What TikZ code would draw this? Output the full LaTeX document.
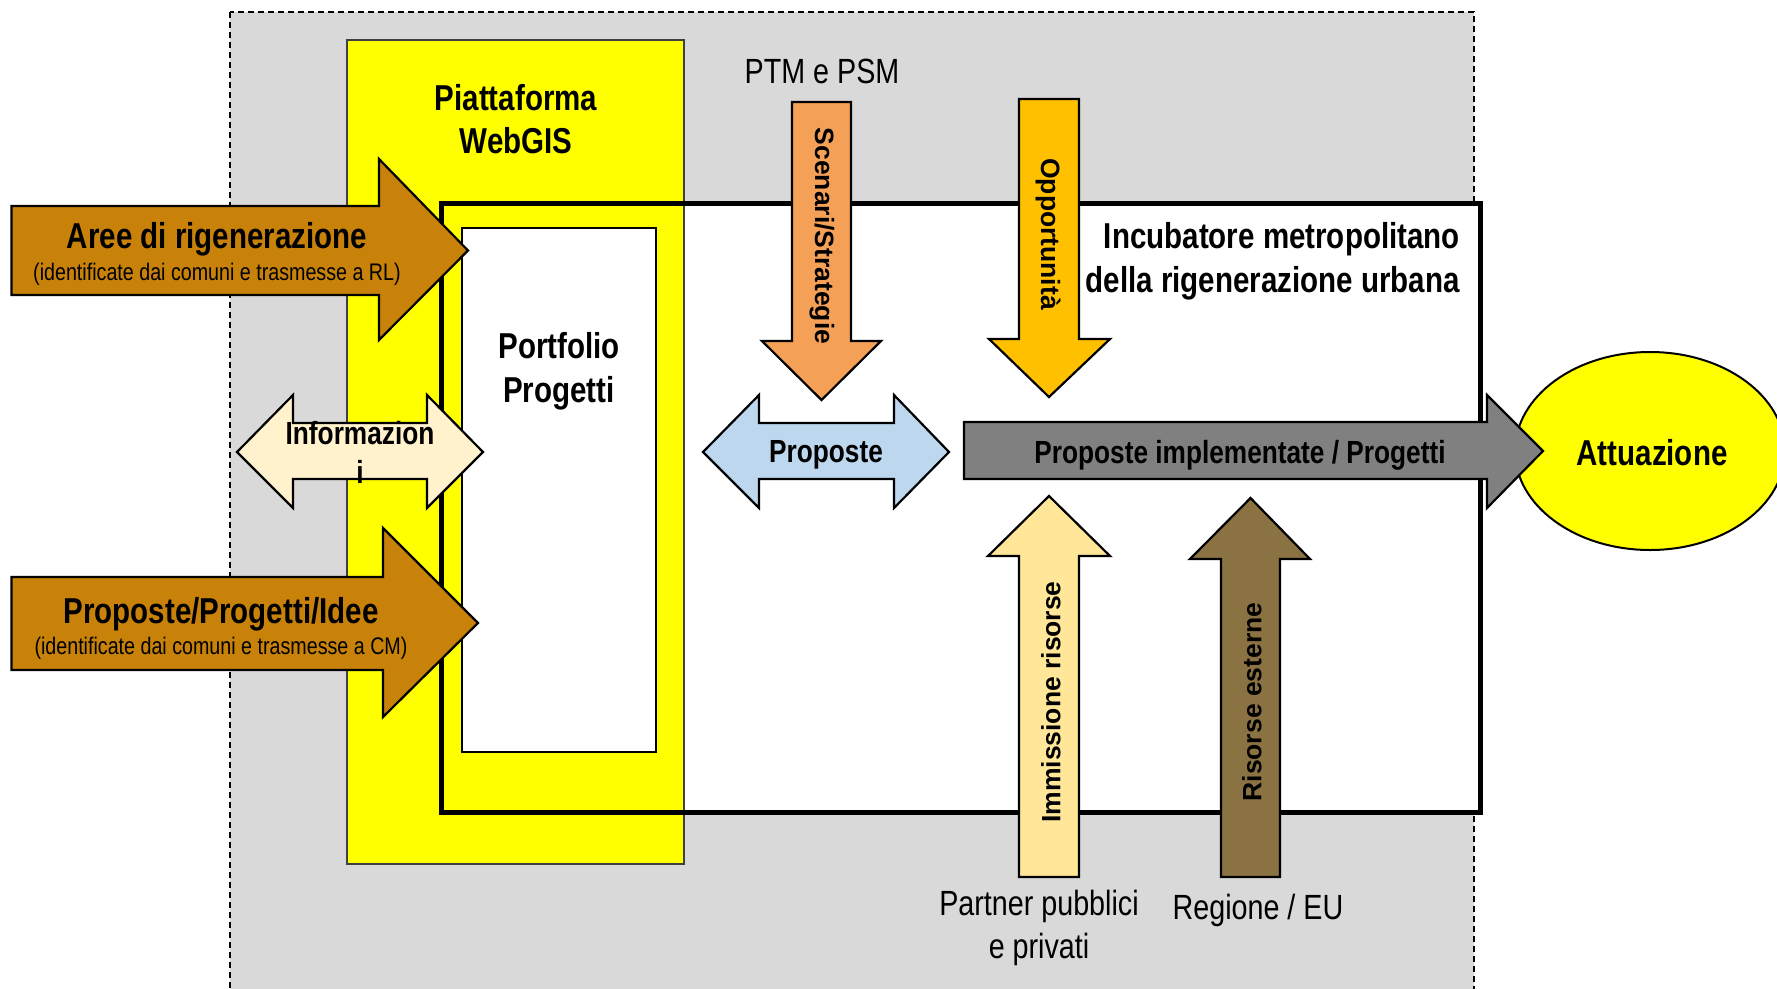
\documentclass[tikz,border=0pt]{standalone}
\usepackage{fontspec}
\setmainfont{Liberation Sans}
\newfontfamily\narrowfont[FakeStretch=0.82]{Liberation Sans}
\definecolor{bggray}{HTML}{D9D9D9}
\definecolor{webyellow}{HTML}{FFFF00}
\definecolor{brownarrow}{HTML}{C8820A}
\definecolor{infocream}{HTML}{FFF2CC}
\definecolor{propblue}{HTML}{BDD7EE}
\definecolor{scenorange}{HTML}{F4A157}
\definecolor{oppgold}{HTML}{FFC000}
\definecolor{implgray}{HTML}{808080}
\definecolor{immyellow}{HTML}{FFE699}
\definecolor{risbrown}{HTML}{8A7242}
\begin{document}
\begin{tikzpicture}[x=1pt,y=-1pt,
  blockarrow/.style={draw=black, line width=2.2pt, line join=miter},
  bigtext/.style={font=\narrowfont\bfseries\fontsize{36}{43}\selectfont, inner sep=0pt},
  midtext/.style={font=\narrowfont\bfseries\fontsize{32}{38}\selectfont, inner sep=0pt},
  subtext/.style={font=\narrowfont\fontsize{24}{28}\selectfont, inner sep=0pt},
  plaintext/.style={font=\narrowfont\fontsize{35}{43}\selectfont, inner sep=0pt},
  verttext/.style={font=\bfseries\fontsize{26.5}{30}\selectfont, inner sep=0pt}]
\useasboundingbox (0,0) rectangle (1777,988);
\fill[white] (0,0) rectangle (1777,988);
% background dashed region
\draw[fill=bggray, line width=1.5pt, dash pattern=on 6pt off 4pt] (230,12) rectangle (1474,1010);
% incubator fill
\fill[white] (441,203) rectangle (1480,812);
% WebGIS platform
\draw[fill=webyellow, draw=black!75, line width=1.5pt] (347,40) rectangle (684,864);
% incubator border
\draw[line width=5pt] (441,203) rectangle (1480,812);
% portfolio box
\draw[fill=white, line width=2.5pt] (462,228) rectangle (656,752);

\node[bigtext, anchor=base] (piatt) at (516,110) {Piattaforma};
\node[bigtext, anchor=base] (webgis) at (516,153) {WebGIS};
\node[bigtext, anchor=base] (portf) at (559,358) {Portfolio};
\node[bigtext, anchor=base] (progt) at (559,402) {Progetti};
\node[bigtext, anchor=base east] (incub1) at (1460,248) {Incubatore metropolitano};
\node[bigtext, anchor=base east] (incub2) at (1460,292) {della rigenerazione urbana};
\node[plaintext, anchor=base] (ptm) at (822,83) {PTM e PSM};

% attuazione ellipse
\draw[fill=webyellow, line width=2pt] (1650,451) ellipse [x radius=135, y radius=99];
\node[bigtext, anchor=base] (attua) at (1652,465) {Attuazione};

% Aree di rigenerazione arrow
\draw[blockarrow, fill=brownarrow] (11.5,206) -- (379,206) -- (379,159) -- (468,250.5) -- (379,340) -- (379,295) -- (11.5,295) -- cycle;
\node[bigtext, anchor=base] (aree) at (217,248) {Aree di rigenerazione};
\node[subtext, anchor=base] (areesub) at (217,280) {(identificate dai comuni e trasmesse a RL)};

% Proposte/Progetti/Idee arrow
\draw[blockarrow, fill=brownarrow] (11.5,577) -- (383,577) -- (383,528) -- (478,623) -- (383,717) -- (383,670) -- (11.5,670) -- cycle;
\node[bigtext, anchor=base] (ppi) at (221,623) {Proposte/Progetti/Idee};
\node[subtext, anchor=base] (ppisub) at (221,654) {(identificate dai comuni e trasmesse a CM)};

% Informazioni double arrow
\draw[blockarrow, fill=infocream] (237,452) -- (293,395) -- (293,423) -- (427,423) -- (427,395) -- (483,452) -- (427,508) -- (427,479) -- (293,479) -- (293,508) -- cycle;
\node[midtext, anchor=base] (info1) at (360,444) {Informazion};
\node[midtext, anchor=base] (info2) at (360,483) {i};

% Proposte double arrow
\draw[blockarrow, fill=propblue] (703,452) -- (759,395) -- (759,423) -- (894,423) -- (894,395) -- (949,452) -- (894,508) -- (894,479) -- (759,479) -- (759,508) -- cycle;
\node[midtext, anchor=base] (prop) at (826,462) {Proposte};

% Scenari/Strategie arrow
\draw[blockarrow, fill=scenorange] (792,102) -- (851,102) -- (851,341) -- (881,341) -- (821.5,400) -- (762,341) -- (792,341) -- cycle;
\node[verttext, rotate=-90] (scen) at (822,236) {Scenari/Strategie};

% Opportunita arrow
\draw[blockarrow, fill=oppgold] (1019,99) -- (1079,99) -- (1079,339) -- (1110,339) -- (1049,397) -- (989,339) -- (1019,339) -- cycle;
\node[verttext, rotate=-90] (opp) at (1048,234) {Opportunità};

% Proposte implementate arrow
\draw[blockarrow, fill=implgray] (964,422) -- (1487,422) -- (1487,395) -- (1543,451) -- (1487,508) -- (1487,479) -- (964,479) -- cycle;
\node[midtext, anchor=base] (impl) at (1240,463) {Proposte implementate / Progetti};

% Immissione risorse arrow
\draw[blockarrow, fill=immyellow] (1019,877) -- (1079,877) -- (1079,556) -- (1110,556) -- (1049,496) -- (988,556) -- (1019,556) -- cycle;
\node[verttext, rotate=90] (imm) at (1051,702) {Immissione risorse};

% Risorse esterne arrow
\draw[blockarrow, fill=risbrown] (1221,877) -- (1280,877) -- (1280,559) -- (1310,559) -- (1250.5,498) -- (1190,559) -- (1221,559) -- cycle;
\node[verttext, rotate=90] (ris) at (1252,702) {Risorse esterne};

% bottom labels
\node[plaintext, anchor=base] (partner1) at (1039,915) {Partner pubblici};
\node[plaintext, anchor=base] (partner2) at (1039,958) {e privati};
\node[plaintext, anchor=base] (regione) at (1258,919) {Regione / EU};
\end{tikzpicture}
\end{document}
